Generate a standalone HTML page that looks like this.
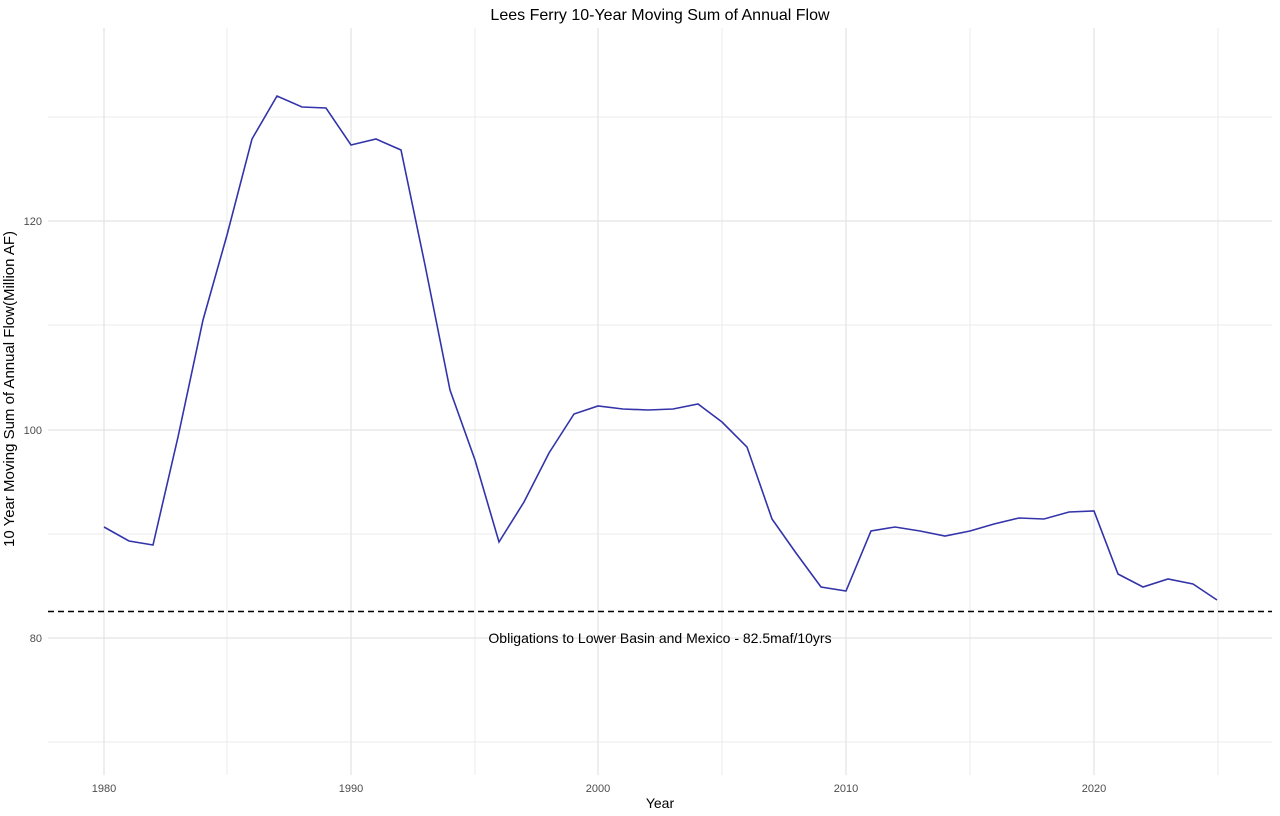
<!DOCTYPE html>
<html><head><meta charset="utf-8"><style>
html,body{margin:0;padding:0;background:#fff;}
svg{display:block;font-family:"Liberation Sans",sans-serif;}
</style></head><body>
<svg width="1280" height="816" viewBox="0 0 1280 816" xmlns="http://www.w3.org/2000/svg">
<rect width="1280" height="816" fill="#fff"/>
<g stroke="#ebebeb" stroke-width="1">
<line x1="48" x2="1272" y1="742" y2="742"/>
<line x1="48" x2="1272" y1="534" y2="534"/>
<line x1="48" x2="1272" y1="325" y2="325"/>
<line x1="48" x2="1272" y1="117" y2="117"/>
<line x1="227" x2="227" y1="28" y2="775"/>
<line x1="475" x2="475" y1="28" y2="775"/>
<line x1="722" x2="722" y1="28" y2="775"/>
<line x1="970" x2="970" y1="28" y2="775"/>
<line x1="1218" x2="1218" y1="28" y2="775"/>
</g>
<g stroke="#e3e3e3" stroke-width="1.2">
<line x1="48" x2="1272" y1="638" y2="638"/>
<line x1="48" x2="1272" y1="430" y2="430"/>
<line x1="48" x2="1272" y1="221" y2="221"/>
<line x1="104" x2="104" y1="28" y2="775"/>
<line x1="351" x2="351" y1="28" y2="775"/>
<line x1="598" x2="598" y1="28" y2="775"/>
<line x1="846" x2="846" y1="28" y2="775"/>
<line x1="1094" x2="1094" y1="28" y2="775"/>
</g>
<line x1="48" x2="1272" y1="611.5" y2="611.5" stroke="#000" stroke-width="1.6" stroke-dasharray="6,4"/>
<polyline fill="none" stroke="#3333aa" stroke-width="1.6" points="104,527 129,541 153,545 178,437 203,320 227,235 252,139 277,96 302,107 326,108 351,145 376,139 401,150 425,265 450,390 475,460 499,542 524,502 549,453 574,414 598,406 623,409 648,410 673,409 698,404 722,422 747,447 772,519 796,553 821,587 846,591 871,531 895,527 920,531 945,536 970,531 994,524 1019,518 1044,519 1069,512 1094,511 1118,574 1143,587 1168,579 1193,584 1217,600"/>
<text x="660" y="643" font-size="14" text-anchor="middle" fill="#000">Obligations to Lower Basin and Mexico - 82.5maf/10yrs</text>
<g font-size="11" fill="#4d4d4d" text-anchor="end">
<text x="42" y="642">80</text>
<text x="42" y="434">100</text>
<text x="42" y="225">120</text>
</g>
<g font-size="11" fill="#4d4d4d" text-anchor="middle">
<text x="104" y="792">1980</text>
<text x="351" y="792">1990</text>
<text x="598" y="792">2000</text>
<text x="846" y="792">2010</text>
<text x="1094" y="792">2020</text>
</g>
<text x="660" y="808" font-size="14" text-anchor="middle" fill="#000">Year</text>
<text transform="translate(14,389) rotate(-90)" font-size="15" text-anchor="middle" fill="#000">10 Year Moving Sum of Annual Flow(Million AF)</text>
<text x="660" y="20" font-size="16" text-anchor="middle" fill="#000">Lees Ferry 10-Year Moving Sum of Annual Flow</text>
</svg>
</body></html>
